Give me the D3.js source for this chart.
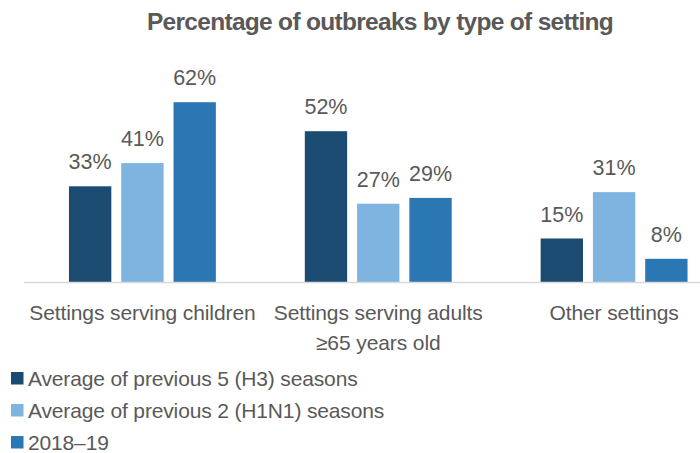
<!DOCTYPE html>
<meta charset="utf-8">
<head>
    <title>Outbreaks by setting</title>
    <script src="https://cdn.jsdelivr.net/npm/d3@7"></script>
    <style>
    body { margin: 0; background: #fff; }
    text { font-family: "Liberation Sans", Arial, sans-serif; fill: #595959; }
    </style>
</head>
<body>
<svg id="chart"></svg>
<script>
    var width = 700, height = 453;

    // data
    var categories = ["Settings serving children", "Settings serving adults|≥65 years old", "Other settings"];
    var seriesNames = ["Average of previous 5 (H3) seasons", "Average of previous 2 (H1N1) seasons", "2018–19"];
    var prev5 = [33, 52, 15];
    var prev2 = [41, 27, 31];
    var season1819 = [62, 29, 8];
    var seriesValues = [prev5, prev2, season1819];
    var colors = ["#1C4B72", "#7FB4E1", "#2A77B3"];

    var svg = d3.select("#chart").attr("width", width).attr("height", height);

    // title
    svg.append("text")
        .attr("x", 380).attr("y", 30)
        .attr("text-anchor", "middle")
        .style("font-size", "24.5px").style("font-weight", "bold")
        .style("letter-spacing", "-0.7px")
        .text("Percentage of outbreaks by type of setting");

    // scales (plot runs a bit off the right edge, like the source)
    var x = d3.scaleBand().domain(categories).range([24.5, 732]);
    var xs = d3.scaleBand().domain(seriesNames).range([0, x.bandwidth() * 0.665])
        .paddingInner(0.19).paddingOuter(0.095);
    var y = d3.scaleLinear().domain([0, 70]).range([282, 79]);

    var groups = svg.append("g").selectAll("g").data(categories).enter().append("g")
        .attr("transform", function(d) {
            return "translate(" + (x(d) + x.bandwidth() / 2 - xs.range()[1] / 2) + ",0)";
        });

    groups.selectAll("rect")
        .data(function(d, i) {
            return seriesNames.map(function(s, j) { return {s: s, v: seriesValues[j][i], c: colors[j]}; });
        })
        .enter().append("rect")
        .attr("x", function(d) { return xs(d.s); })
        .attr("width", xs.bandwidth())
        .attr("y", function(d) { return y(d.v); })
        .attr("height", function(d) { return y(0) - y(d.v); })
        .attr("fill", function(d) { return d.c; });

    groups.selectAll("text.lbl")
        .data(function(d, i) {
            return seriesNames.map(function(s, j) { return {s: s, v: seriesValues[j][i]}; });
        })
        .enter().append("text").attr("class", "lbl")
        .attr("x", function(d) { return xs(d.s) + xs.bandwidth() / 2; })
        .attr("y", function(d) { return y(d.v) - 17; })
        .attr("text-anchor", "middle")
        .style("font-size", "21.5px")
        .text(function(d) { return d.v + "%"; });

    // baseline
    svg.append("line")
        .attr("x1", 24).attr("x2", 700)
        .attr("y1", y(0) + 0.5).attr("y2", y(0) + 0.5)
        .attr("stroke", "#d9d9d9").attr("stroke-width", 1.5);

    // category labels
    var catLabels = svg.append("g").selectAll("text").data(categories).enter().append("text")
        .attr("text-anchor", "middle")
        .attr("x", function(d) { return x(d) + x.bandwidth() / 2; })
        .attr("y", 320)
        .style("font-size", "21px")
        .style("letter-spacing", "-0.1px");
    catLabels.each(function(d) {
        var lines = d.split("|");
        var t = d3.select(this);
        lines.forEach(function(l, i) {
            t.append("tspan").attr("x", t.attr("x")).attr("dy", i == 0 ? 0 : 30).text(l);
        });
    });

    // legend
    var legend = svg.append("g").selectAll("g").data(seriesNames).enter().append("g")
        .attr("transform", function(d, i) { return "translate(0," + (386 + i * 32) + ")"; });
    legend.append("rect")
        .attr("x", 11).attr("y", -14).attr("width", 12.5).attr("height", 12.5)
        .attr("fill", function(d, i) { return colors[i]; });
    legend.append("text")
        .attr("x", 28).attr("y", 0)
        .style("font-size", "21px")
        .style("letter-spacing", "-0.15px")
        .text(function(d) { return d; });
</script>
</body>
</html>
